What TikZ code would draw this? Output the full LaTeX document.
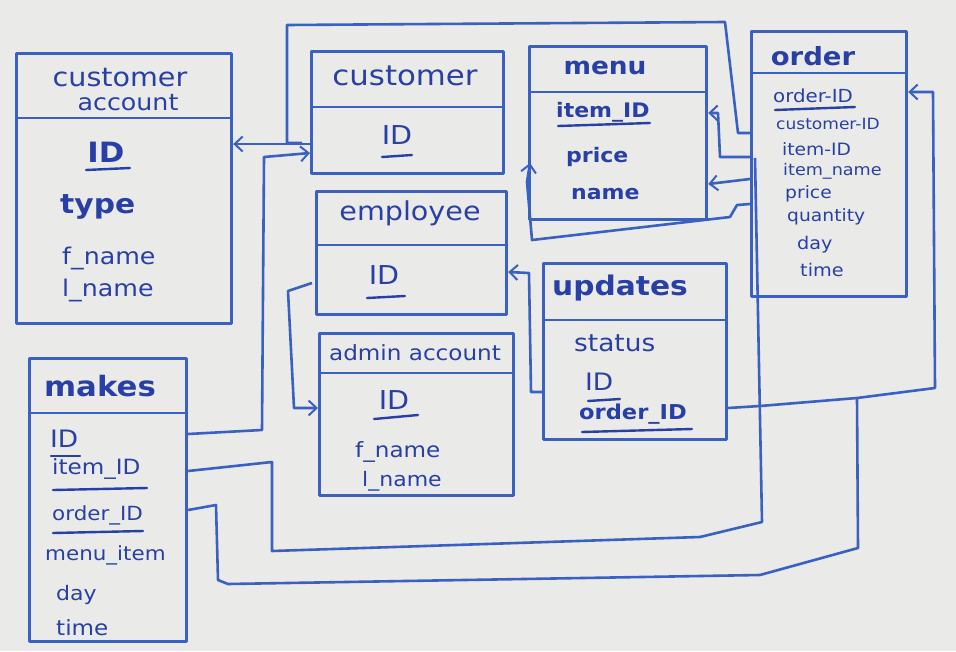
\documentclass[tikz,border=0pt]{standalone}
\usepackage{fontspec}
\usetikzlibrary{arrows.meta}
\newfontfamily\hand[FakeStretch=1.1]{DejaVu Sans}
\definecolor{board}{RGB}{234,234,232}
\definecolor{lineblue}{RGB}{58,96,194}
\definecolor{inkblue}{RGB}{40,64,166}
\tikzset{
  box/.style={draw=lineblue, line width=3.2pt, line join=round},
  divider/.style={draw=lineblue, line width=2.8pt},
  conn/.style={draw=lineblue, line width=2.6pt, line join=round},
  arr/.style={conn, -{Straight Barb[length=8pt,width=15pt,line width=2pt]}},
  ul/.style={draw=inkblue, line width=2.4pt, line cap=round},
  lbl/.style={text=inkblue, inner sep=0pt},
  fs/.style={font=\hand\fontsize{#1}{#1}\selectfont},
  fb/.style={font=\hand\bfseries\fontsize{#1}{#1}\selectfont}
}
\begin{document}
\begin{tikzpicture}[x=1pt,y=-1pt]
\useasboundingbox (0,0) rectangle (956,651);
\fill[board] (0,0) rectangle (956,651);

% ---------- boxes ----------
\node[box, anchor=north west, minimum width=215pt, minimum height=270pt] (ca) at (15,52) {};
\draw[divider] (15,118) -- (230,118);
\node[box, anchor=north west, minimum width=192pt, minimum height=122pt] (cu) at (310,50) {};
\draw[divider] (310,107) -- (502,107);
\node[box, anchor=north west, minimum width=177pt, minimum height=173pt] (me) at (528,45) {};
\draw[divider] (528,92) -- (705,92);
\node[box, anchor=north west, minimum width=155pt, minimum height=265pt] (or) at (750,30) {};
\draw[divider] (750,73) -- (905,73);
\node[box, anchor=north west, minimum width=190pt, minimum height=123pt] (em) at (315,190) {};
\draw[divider] (315,245) -- (505,245);
\node[box, anchor=north west, minimum width=194pt, minimum height=162pt] (ad) at (318,332) {};
\draw[divider] (318,373) -- (512,373);
\node[box, anchor=north west, minimum width=183pt, minimum height=176pt] (up) at (542,262) {};
\draw[divider] (542,320) -- (725,320);
\node[box, anchor=north west, minimum width=157pt, minimum height=283pt] (mk) at (28,357) {};
\draw[divider] (28,413) -- (185,413);

% ---------- customer account ----------
\node[lbl, fs=26, anchor=base] (caT1) at (120,86) {customer};
\node[lbl, fs=23, anchor=base] (caT2) at (128,110) {account};
\node[lbl, fb=28] (caID) at (106,152) {ID};
\draw[ul] (86,170) -- (130,168);
\node[lbl, fb=27, anchor=west] (caType) at (60,207) {type};
\node[lbl, fs=23, anchor=west] (caF) at (62,258) {f\_name};
\node[lbl, fs=23, anchor=west] (caL) at (62,290) {l\_name};

% ---------- customer ----------
\node[lbl, fs=28] (cuT) at (405,76) {customer};
\node[lbl, fs=26] (cuID) at (397,135) {ID};
\draw[ul] (382,157) -- (412,155);

% ---------- menu ----------
\node[lbl, fb=24] (meT) at (605,68) {menu};
\node[lbl, fb=20, anchor=west] (meA) at (556,112) {item\_ID};
\draw[ul] (558,126) -- (650,123);
\node[lbl, fb=20, anchor=west] (meP) at (566,157) {price};
\node[lbl, fb=20, anchor=west] (meN) at (571,194) {name};

% ---------- order ----------
\node[lbl, fb=25] (orT) at (813,56) {order};
\node[lbl, fs=18, anchor=west] (orA) at (773,96) {order-ID};
\draw[ul] (775,110) -- (855,107);
\node[lbl, fs=15.5, anchor=west] (orB) at (776,124) {customer-ID};
\node[lbl, fs=17, anchor=west] (orC) at (782,149) {item-ID};
\node[lbl, fs=16, anchor=west] (orD) at (783,171) {item\_name};
\node[lbl, fs=17, anchor=west] (orE) at (785,194) {price};
\node[lbl, fs=17, anchor=west] (orF) at (787,217) {quantity};
\node[lbl, fs=17.5, anchor=west] (orG) at (797,245) {day};
\node[lbl, fs=17.5, anchor=west] (orH) at (800,270) {time};

% ---------- employee ----------
\node[lbl, fs=26] (emT) at (410,213) {employee};
\node[lbl, fs=26] (emID) at (384,275) {ID};
\draw[ul] (367,298) -- (405,296);

% ---------- admin account ----------
\node[lbl, fs=21] (adT) at (415,353) {admin account};
\node[lbl, fs=26] (adID) at (394,400) {ID};
\draw[ul] (374,419) -- (418,415);
\node[lbl, fs=21, anchor=west] (adF) at (355,452) {f\_name};
\node[lbl, fs=20, anchor=west] (adL) at (362,481) {l\_name};

% ---------- updates ----------
\node[lbl, fb=27] (upT) at (620,288) {updates};
\node[lbl, fs=24, anchor=west] (upS) at (574,343) {status};
\node[lbl, fs=24, anchor=west] (upID) at (585,382) {ID};
\draw[ul] (588,401) -- (620,399);
\node[lbl, fb=20.5, anchor=west] (upO) at (579,414) {order\_ID};
\draw[ul] (582,432) -- (692,429);

% ---------- makes ----------
\node[lbl, fb=28] (mkT) at (100,386) {makes};
\node[lbl, fs=24, anchor=west] (mkA) at (50,439) {ID};
\draw[ul] (51,456) -- (80,456);
\node[lbl, fs=21, anchor=west] (mkB) at (52,469) {item\_ID};
\draw[ul] (53,490) -- (147,488);
\node[lbl, fs=19.5, anchor=west] (mkC) at (52,515) {order\_ID};
\draw[ul] (53,533) -- (143,531);
\node[lbl, fs=19.5, anchor=west] (mkD) at (45,555) {menu\_item};
\node[lbl, fs=20, anchor=west] (mkE) at (56,595) {day};
\node[lbl, fs=21, anchor=west] (mkF) at (56,628) {time};

% ---------- connectors ----------
% order.customer-ID over the top to customer / customer account
\coordinate (jTop) at (287,143);
\draw[conn] (or.west |- 0,133) -- (738,133) -- (725,22) -- (287,25) -- (jTop) -- (302,143);
\draw[arr] (cu.west |- 0,144) -- (ca.east |- 0,144);
% makes.ID -> customer
\draw[arr] (mk.east |- 0,434) -- (262,430) -- (264,157) -- (cu.west |- 0,153);
% makes.item_ID -> order.item-ID
\draw[conn] (mk.east |- 0,471) -- (272,462) -- (272,551) -- (700,537) -- (762,522) -- (755,158);
% order.item-ID -> menu.item_ID
\draw[arr] (or.west |- 0,157) -- (720,157) -- (718,113) -- (me.east |- 0,113);
% order.item_name -> menu.name
\draw[arr] (or.west |- 0,179) -- (me.east |- 0,184);
% order.price -> menu.price
\draw[arr] (or.west |- 0,204) -- (737,205) -- (730,217) -- (532,240) -- (527,182) -- (530,163);
% updates.ID -> employee.ID
\draw[arr] (up.west |- 0,392) -- (531,392) -- (529,273) -- (em.east |- 0,272);
% employee -> admin account
\draw[arr] (312,283) -- (288,291) -- (294,408) -- (ad.west |- 0,408);
% updates.order_ID -> order.order-ID
\coordinate (jOrd) at (857,398);
\draw[arr] (up.east |- 0,408) -- (760,406) -- (jOrd) -- (935,388) -- (933,92) -- (or.east |- 0,92);
% makes.order_ID -> joins order link
\draw[conn] (mk.east |- 0,510) -- (216,505) -- (218,580) -- (228,584) -- (760,575) -- (858,548) -- (jOrd);
\end{tikzpicture}
\end{document}
